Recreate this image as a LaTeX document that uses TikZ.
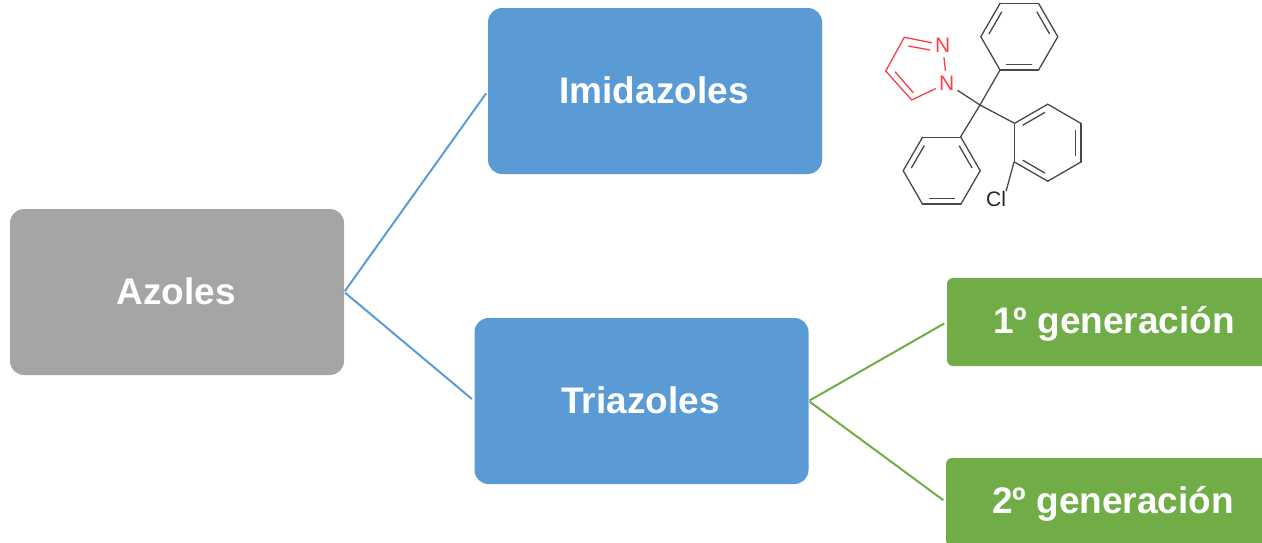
\documentclass[tikz,border=0pt]{standalone}
\usepackage{fontspec}
\usetikzlibrary{calc}
\setmainfont{Liberation Sans}
\definecolor{azgray}{HTML}{A5A5A5}
\definecolor{azblue}{HTML}{5B9BD5}
\definecolor{azgreen}{HTML}{70AD47}
\definecolor{azbond}{HTML}{484848}
\definecolor{azred}{HTML}{F9404A}
\tikzset{
  box/.style={rounded corners=14pt, minimum width=334pt, minimum height=166pt, inner sep=0pt,
    text=white, font=\fontsize{37}{40}\selectfont\bfseries, text height=27pt, text depth=3pt},
  genbox/.style={box, rounded corners=6pt, fill=azgreen, minimum height=88pt, text height=26pt, text depth=4pt},
  link/.style={line width=2pt, shorten >=3pt, shorten <=1pt},
  bond/.style={line width=1.3pt, azbond},
  redbond/.style={line width=1.3pt, azred},
  atom/.style={inner xsep=3pt, inner ysep=5pt, font=\fontsize{21}{21}\selectfont},
}
\begin{document}
\begin{tikzpicture}[x=1pt,y=-1pt]
  \useasboundingbox (0,0) rectangle (1262,542);

  \node[box, fill=azgray] (Azoles) at (177,292) {Azoles\kern2pt};
  \node[box, fill=azblue] (Imidazoles) at (655,91) {Imidazoles\kern2pt};
  \node[box, fill=azblue] (Triazoles) at (641.5,401) {Triazoles\kern2pt};
  \node[genbox] (Gen1) at (1114,322) {1º generación};
  \node[genbox] (Gen2) at (1113,502) {2º generación};

  \draw[link, azblue] (Azoles.east) -- (Imidazoles.west);
  \draw[link, azblue] (Azoles.east) -- (Triazoles.west);
  \draw[link, azgreen] (Triazoles.east) -- (Gen1.west);
  \draw[link, azgreen] (Triazoles.east) -- (Gen2.west);

  % molecule
  \foreach \cx/\cy/\rot in {1019.3/36.7/0, 941.7/170.7/0, 1047.7/142.7/30} {
    \foreach \a in {0,60,...,300}
      \draw[bond, line cap=round] ($(\cx,\cy)+({\a+\rot}:38.5)$) -- ($(\cx,\cy)+({\a+60+\rot}:38.5)$);
    \foreach \a in {60,180,300}
      \draw[bond] ($(\cx,\cy)+({\a+\rot+5}:30.5)$) -- ($(\cx,\cy)+({\a+55+\rot}:30.5)$);
  }
  \node[atom, text=azred] (N1) at (942.7,45) {N};
  \node[atom, text=azred] (N2) at (946.7,83.3) {N};
  \node[atom, inner sep=0pt, text=black!85] (Cl) at (996,199) {Cl};
  \coordinate (Ctr) at (980,105);
  \draw[bond] (Ctr) -- (1000,70);
  \draw[bond] (Ctr) -- (960.5,137);
  \draw[bond] (Ctr) -- (1014,123);
  \draw[bond] (Ctr) -- (N2);
  \draw[bond] (1014,162) -- (Cl.north east);
  \draw[redbond] (N1) -- (N2);
  \draw[redbond] (N1) -- (904.3,37.3) -- (885.7,71) -- (911.7,100) -- (N2);
  \draw[redbond] (930,50) -- (908.3,46);
  \draw[redbond] (895,71.7) -- (913.3,92.7);
\end{tikzpicture}
\end{document}
